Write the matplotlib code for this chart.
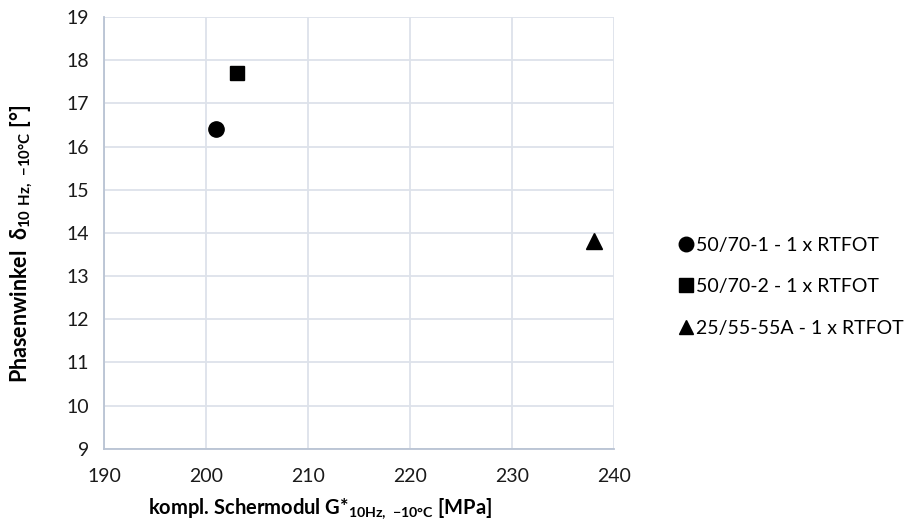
import matplotlib
matplotlib.use("Agg")
import matplotlib.pyplot as plt

# Data points (complex shear modulus vs. phase angle)
labels = ["50/70-1 - 1 x RTFOT", "50/70-2 - 1 x RTFOT", "25/55-55A - 1 x RTFOT"]
g_star = [201.0, 203.0, 238.0]
delta = [16.4, 17.7, 13.8]
markers = ["o", "s", "^"]

x_ticks = [190, 200, 210, 220, 230, 240]
y_ticks = [9, 10, 11, 12, 13, 14, 15, 16, 17, 18, 19]

plt.rcParams["font.family"] = ["Lato", "DejaVu Sans"]
plt.rcParams["mathtext.default"] = "regular"

fig = plt.figure(figsize=(9.19, 5.31), dpi=100)
ax = fig.add_axes([0.1132, 0.155, 0.555, 0.813])

for x, y, m, lab in zip(g_star, delta, markers, labels):
    ax.plot([x], [y], linestyle="none", marker=m, markersize=11 if m != "s" else 10.5,
            color="black", label=lab, zorder=3)

ax.set_xlim(190, 240)
ax.set_ylim(9, 19)
ax.set_xticks(x_ticks)
ax.set_yticks(y_ticks)
ax.grid(True, color="#dde2ea", linewidth=1.3, zorder=0)
ax.set_axisbelow(True)
for s in ["top", "right"]:
    ax.spines[s].set_visible(False)
ax.spines["left"].set_color("#b9c3d3")
ax.spines["bottom"].set_color("#b9c3d3")
ax.spines["left"].set_linewidth(1.3)
ax.spines["bottom"].set_linewidth(1.3)
ax.tick_params(axis="both", length=0, labelsize=14, colors="#1a1a1a")
ax.tick_params(axis="x", pad=14)
ax.tick_params(axis="y", pad=11)

ax.set_xlabel(r"kompl. Schermodul G*$_{10Hz,\ {-10°C}}$ [MPa]", fontsize=14.5,
              fontweight="bold")
ax.xaxis.set_label_coords(0.4235, -0.11)
ax.set_ylabel(r"Phasenwinkel  δ$_{10\ Hz,\ {-10°C}}$ [°]", fontsize=15.5,
              fontweight="bold")
ax.yaxis.set_label_coords(-0.135, 0.475)

leg = fig.legend(loc="center left", bbox_to_anchor=(0.72, 0.46), frameon=False,
                 fontsize=14, handlelength=0.7, handletextpad=0.15,
                 labelspacing=1.25, markerscale=0.95)

fig.savefig("out.png", dpi=100)
